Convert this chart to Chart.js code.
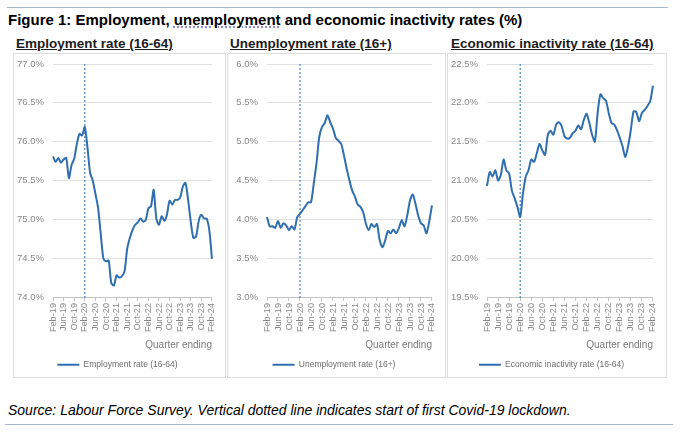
<!DOCTYPE html>
<html>
<head>
<meta charset="utf-8">
<script src="https://cdn.jsdelivr.net/npm/chart.js@4.4.1/dist/chart.umd.min.js"></script>
<style>
  body { margin: 0; width: 680px; height: 432px; background: #fff; position: relative; overflow: hidden;
         font-family: "Liberation Sans", Arial, sans-serif; }
  .rule { position: absolute; height: 0; border-top: 1px solid #a3b8cf; }
  .title { position: absolute; left: 8px; top: 12px; font-size: 15px; line-height: 15px; font-weight: bold; color: #000; white-space: nowrap; }
  .spell { text-decoration: underline dotted #6a62c9; text-underline-offset: 2px; }
  .sub { position: absolute; top: 37px; font-size: 13.5px; line-height: 13px; font-weight: bold; color: #1c1c1c;
         text-decoration: underline; white-space: nowrap; }
  .panel { position: absolute; top: 53px; height: 323px; border: 1px solid #dcdcdc; }
  .panel canvas { position: absolute; left: 0; top: 0; }
  .source { position: absolute; left: 8px; top: 403px; font-size: 14px; line-height: 14px; font-style: italic; color: #000; white-space: nowrap; }
</style>
</head>
<body>
<div class="rule" style="left:7px; width:661px; top:7px;"></div>
<div class="title">Figure 1: Employment, <span class="spell">unemployment</span> and economic inactivity rates (%)</div>

<div class="sub" style="left:16px;">Employment rate (16-64)</div>
<div class="sub" style="left:230px;">Unemployment rate (16+)</div>
<div class="sub" style="left:451px;">Economic inactivity rate (16-64)</div>

<div class="panel" style="left:13px; width:211px;"><canvas id="emp-chart" width="211" height="325"></canvas></div>
<div class="panel" style="left:227px; width:217px;"><canvas id="unemp-chart" width="217" height="325"></canvas></div>
<div class="panel" style="left:447px; width:218px;"><canvas id="inact-chart" width="218" height="325"></canvas></div>

<div class="source">Source: Labour Force Survey. Vertical dotted line indicates start of first Covid-19 lockdown.</div>
<div class="rule" style="left:5px; width:668px; top:424px;"></div>

<script>
// Months (quarter ending), Feb-19 .. Feb-24
const months = [
  "Feb-19", "Mar-19", "Apr-19", "May-19", "Jun-19", "Jul-19", "Aug-19", "Sep-19", "Oct-19", "Nov-19", "Dec-19", "Jan-20",
  "Feb-20", "Mar-20", "Apr-20", "May-20", "Jun-20", "Jul-20", "Aug-20", "Sep-20", "Oct-20", "Nov-20", "Dec-20", "Jan-21",
  "Feb-21", "Mar-21", "Apr-21", "May-21", "Jun-21", "Jul-21", "Aug-21", "Sep-21", "Oct-21", "Nov-21", "Dec-21", "Jan-22",
  "Feb-22", "Mar-22", "Apr-22", "May-22", "Jun-22", "Jul-22", "Aug-22", "Sep-22", "Oct-22", "Nov-22", "Dec-22", "Jan-23",
  "Feb-23", "Mar-23", "Apr-23", "May-23", "Jun-23", "Jul-23", "Aug-23", "Sep-23", "Oct-23", "Nov-23", "Dec-23", "Jan-24",
  "Feb-24"
];
// Labels shown on the x axis
const tickLabels = ["Feb-19", "Jun-19", "Oct-19", "Feb-20", "Jun-20", "Oct-20", "Feb-21", "Jun-21",
  "Oct-21", "Feb-22", "Jun-22", "Oct-22", "Feb-23", "Jun-23", "Oct-23", "Feb-24"];
const lockdownMonth = "Feb-20";

// Series (%)
const employmentRate = [
  75.81, 75.74, 75.79, 75.73, 75.77, 75.79, 75.53, 75.70, 75.78, 75.97, 76.10, 76.08,
  76.19, 75.93, 75.60, 75.50, 75.33, 75.15, 74.82, 74.50, 74.46, 74.47, 74.18, 74.15,
  74.28, 74.25, 74.27, 74.33, 74.62, 74.76, 74.86, 74.93, 74.96, 75.01, 74.97, 74.99,
  75.14, 75.17, 75.38, 75.01, 74.93, 75.04, 74.98, 75.06, 75.24, 75.19, 75.25, 75.25,
  75.28, 75.42, 75.47, 75.25, 74.97, 74.76, 74.78, 74.98, 75.06, 75.01, 75.01, 74.86,
  74.49
];
const unemploymentRate = [
  4.03, 3.91, 3.91, 3.89, 3.98, 3.89, 3.95, 3.92, 3.86, 3.91, 3.87, 4.03,
  4.07, 4.12, 4.17, 4.22, 4.22, 4.46, 4.72, 5.06, 5.19, 5.24, 5.34, 5.25,
  5.17, 5.05, 5.01, 4.97, 4.82, 4.65, 4.50, 4.37, 4.29, 4.19, 4.16, 4.09,
  3.94, 3.86, 3.94, 3.90, 3.94, 3.73, 3.64, 3.73, 3.85, 3.82, 3.87, 3.82,
  3.89, 3.99, 3.91, 4.05, 4.24, 4.32, 4.20, 4.05, 3.95, 3.92, 3.82, 3.97,
  4.18
];
const inactivityRate = [
  20.93, 21.11, 21.05, 21.13, 21.00, 21.07, 21.27, 21.13, 21.09, 20.87, 20.77, 20.66,
  20.53, 20.83, 21.05, 21.13, 21.27, 21.24, 21.35, 21.47, 21.39, 21.33, 21.59, 21.64,
  21.59, 21.72, 21.75, 21.70, 21.57, 21.54, 21.55, 21.61, 21.64, 21.71, 21.66, 21.78,
  21.86, 21.74, 21.59, 21.50, 21.87, 22.11, 22.06, 22.03, 21.87, 21.74, 21.72, 21.65,
  21.55, 21.44, 21.30, 21.44, 21.65, 21.89, 21.88, 21.76, 21.87, 21.91, 21.96, 22.02,
  22.22
];

const FONT = "'Liberation Sans', Arial, sans-serif";
const LINE_BLUE = "#2f6fb0";

// Vertical dotted line at the start of the first lockdown
const lockdownLine = {
  id: "lockdownLine",
  beforeDatasetsDraw(chart) {
    const { ctx, chartArea, scales } = chart;
    const x = scales.x.getPixelForValue(months.indexOf(lockdownMonth));
    ctx.save();
    ctx.strokeStyle = "#4f82c0";
    ctx.lineWidth = 1.2;
    ctx.setLineDash([2, 2]);
    ctx.beginPath();
    ctx.moveTo(x, chartArea.top);
    ctx.lineTo(x, chartArea.bottom + 1);
    ctx.stroke();
    ctx.restore();
  },
};

// Build one panel
function makeChart(canvasId, label, values, yMin, yMax, rightPad) {
  return new Chart(document.getElementById(canvasId), {
    type: "line",
    data: {
      labels: months,
      datasets: [
        {
          label,
          data: values,
          borderColor: LINE_BLUE,
          backgroundColor: LINE_BLUE,
          borderWidth: 2,
          pointRadius: 0,
          tension: 0.25,
        },
      ],
    },
    options: {
      responsive: false,
      animation: false,
      layout: { padding: { top: 10, right: rightPad, bottom: 0, left: 0 } },
      plugins: {
        tooltip: { enabled: false },
        legend: {
          position: "bottom",
          labels: {
            boxWidth: 22,
            boxHeight: 2,
            padding: 4,
            color: "#6b6b6b",
            font: { family: FONT, size: 8.5 },
            generateLabels: (chart) =>
              Chart.defaults.plugins.legend.labels
                .generateLabels(chart)
                .map((item) => ({ ...item, lineWidth: 0 })),
          },
        },
      },
      scales: {
        x: {
          afterFit: (scale) => { scale.height = 59.5; },
          grid: {
            drawOnChartArea: false,
            tickLength: 4,
            color: (ctx) => (tickLabels.includes(months[ctx.index]) ? "#c4c4c4" : "transparent"),
          },
          border: { display: true, color: "#c4c4c4" },
          ticks: {
            autoSkip: false,
            maxRotation: 90,
            minRotation: 90,
            padding: 2,
            color: "#888888",
            font: { family: FONT, size: 9.2 },
            callback: (value) => (tickLabels.includes(months[value]) ? months[value] : ""),
          },
          title: {
            display: true,
            text: "Quarter ending",
            align: "end",
            color: "#7a7a7a",
            font: { family: FONT, size: 10 },
            padding: { top: 0, bottom: 5.5 },
          },
        },
        y: {
          min: yMin,
          max: yMax,
          afterFit: (scale) => {
            scale.width = 39;
            scale.paddingTop = 4;
            scale.paddingBottom = 4;
          },
          grid: { color: "#e0e0e0", drawTicks: false },
          border: { display: false },
          ticks: {
            stepSize: 0.5,
            padding: 9,
            color: "#888888",
            font: { family: FONT, size: 9.5 },
            callback: (value) => value.toFixed(1) + "%",
          },
        },
      },
    },
    plugins: [lockdownLine],
  });
}

makeChart("emp-chart", "Employment rate (16-64)", employmentRate, 74, 77, 4);
makeChart("unemp-chart", "Unemployment rate (16+)", unemploymentRate, 3, 6, 5);
makeChart("inact-chart", "Economic inactivity rate (16-64)", inactivityRate, 19.5, 22.5, 11);
</script>
</body>
</html>
